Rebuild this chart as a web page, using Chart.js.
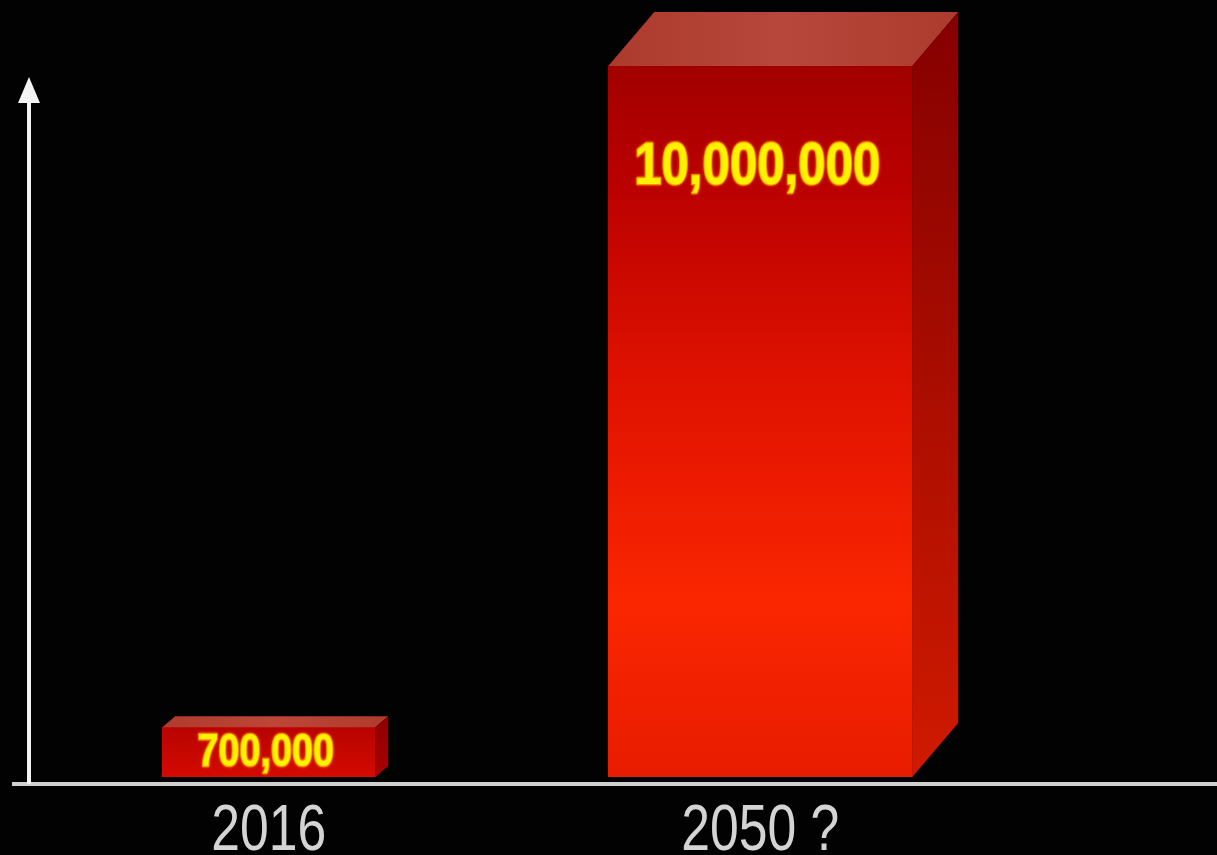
<!DOCTYPE html>
<html>
<head>
<meta charset="utf-8">
<script src="https://cdn.jsdelivr.net/npm/chart.js@4/dist/chart.umd.min.js"></script>
<style>
  html, body { margin: 0; padding: 0; background: #020202; }
  #wrap { width: 1217px; height: 855px; position: relative; }
</style>
</head>
<body>
<div id="wrap"><canvas id="myChart"></canvas></div>
<script>
// categorias y valores
const years = ['2016', '2050 ?'];
const valores2016 = [700000, null];
const valores2050 = [null, 10000000];
const maxEje = 10900000;

const ctx = document.getElementById('myChart').getContext('2d');

// texto estrecho: se comprime en horizontal
function textoEstrecho(c, texto, x, y, escala) {
    c.save();
    c.translate(x, y);
    c.scale(escala, 1);
    c.fillText(texto, 0, 0);
    c.restore();
}

// degradado vertical de la cara frontal de cada barra
function frontGradient(context, stops) {
    const chart = context.chart;
    const area = chart.chartArea;
    if (!area) return stops[0][1];
    const y = chart.scales.y;
    const top = y.getPixelForValue(context.raw || 0);
    const bottom = y.getPixelForValue(0);
    const g = chart.ctx.createLinearGradient(0, top, 0, bottom);
    stops.forEach(s => g.addColorStop(s[0], s[1]));
    return g;
}

// caras superior y lateral + etiqueta con el valor
const barras3D = {
    id: 'barras3D',
    afterDatasetsDraw(chart) {
        const c = chart.ctx;
        chart.data.datasets.forEach((ds, i) => {
            const meta = chart.getDatasetMeta(i);
            meta.data.forEach((bar, j) => {
                const v = ds.data[j];
                if (v == null) return;
                const p = bar.getProps(['x', 'y', 'base', 'width'], true);
                const l = p.x - p.width / 2, r = p.x + p.width / 2;
                const dx = ds.depthX, dy = ds.depthY;

                // cara superior
                let g = c.createLinearGradient(l, 0, r + dx, 0);
                g.addColorStop(0, ds.topColors[0]);
                g.addColorStop(0.5, ds.topColors[1]);
                g.addColorStop(1, ds.topColors[0]);
                c.fillStyle = g;
                c.beginPath();
                c.moveTo(l, p.y);
                c.lineTo(l + dx, p.y - dy);
                c.lineTo(r + dx, p.y - dy);
                c.lineTo(r, p.y);
                c.closePath();
                c.fill();

                // cara lateral
                g = c.createLinearGradient(0, p.y - dy, 0, p.base);
                g.addColorStop(0, ds.sideColors[0]);
                g.addColorStop(1, ds.sideColors[1]);
                c.fillStyle = g;
                c.beginPath();
                c.moveTo(r, p.y);
                c.lineTo(r + dx, p.y - dy);
                c.lineTo(r + dx, p.base - dy);
                c.lineTo(r, p.base);
                c.closePath();
                c.fill();

                // valor
                const texto = v.toLocaleString('en-US');
                const ty = ds.labelOffset == null ? (p.y + p.base) / 2 + 14 : p.y + ds.labelOffset;
                c.save();
                c.translate(p.x - 3, ty);
                c.scale(0.82, 1);
                c.font = 'bold ' + ds.labelSize + 'px "Liberation Sans", Arial, sans-serif';
                c.textAlign = 'center';
                c.textBaseline = 'alphabetic';
                c.lineJoin = 'round';
                c.shadowColor = 'rgba(255,130,0,0.8)';
                c.shadowBlur = 3;
                c.strokeStyle = 'rgba(255,150,0,0.9)';
                c.lineWidth = 2.5;
                c.strokeText(texto, 0, 0);
                c.shadowBlur = 0;
                c.fillStyle = '#fff200';
                c.fillText(texto, 0, 0);
                c.restore();
            });
        });
    }
};

// ejes: flecha vertical, linea base y etiquetas de categoria
const ejes = {
    id: 'ejes',
    afterDraw(chart) {
        const c = chart.ctx;
        const base = chart.scales.y.getPixelForValue(0) + 7;
        c.save();
        c.strokeStyle = '#cfcfcf';
        c.lineWidth = 4;
        c.beginPath();
        c.moveTo(12, base);
        c.lineTo(chart.width, base);
        c.stroke();

        c.strokeStyle = '#f4f4f4';
        c.beginPath();
        c.moveTo(29, base);
        c.lineTo(29, 100);
        c.stroke();
        c.fillStyle = '#f4f4f4';
        c.beginPath();
        c.moveTo(29, 77);
        c.lineTo(18, 103);
        c.lineTo(40, 103);
        c.closePath();
        c.fill();

        const xs = chart.scales.x;
        c.fillStyle = '#d4d4d4';
        c.font = '65px "Liberation Sans", Arial, sans-serif';
        c.textAlign = 'center';
        c.textBaseline = 'alphabetic';
        xs.getLabels().forEach((lab, i) => {
            textoEstrecho(c, lab, xs.getPixelForTick(i), base + 66, 0.795);
        });
        c.restore();
    }
};

new Chart(ctx, {
    type: 'bar',
    data: {
        labels: years,
        datasets: [{
            data: valores2016,
            barThickness: 213,
            grouped: false,
            backgroundColor: context => frontGradient(context, [[0, '#b80300'], [1, '#d40a00']]),
            depthX: 13, depthY: 11,
            topColors: ['#b03a2c', '#bd4636'],
            sideColors: ['#8e0000', '#a80200'],
            labelSize: 46
        }, {
            data: valores2050,
            barThickness: 304,
            grouped: false,
            backgroundColor: context => frontGradient(context, [
                [0, '#a20000'], [0.15, '#b80000'], [0.45, '#e01200'],
                [0.75, '#fa2600'], [1, '#e81c00']
            ]),
            depthX: 46, depthY: 54,
            topColors: ['#ad3b2d', '#b6473a'],
            sideColors: ['#850000', '#d01a00'],
            labelSize: 60,
            labelOffset: 118
        }]
    },
    options: {
        responsive: true,
        maintainAspectRatio: false,
        animation: false,
        layout: { padding: { top: 2, left: 23, right: 211, bottom: 0 } },
        plugins: {
            legend: { display: false },
            tooltip: { enabled: false }
        },
        scales: {
            x: {
                grid: { display: false },
                border: { display: false },
                ticks: { display: false },
                afterFit: scale => { scale.height = 78; }
            },
            y: {
                display: false,
                min: 0,
                max: maxEje
            }
        }
    },
    plugins: [barras3D, ejes]
});
</script>
</body>
</html>
